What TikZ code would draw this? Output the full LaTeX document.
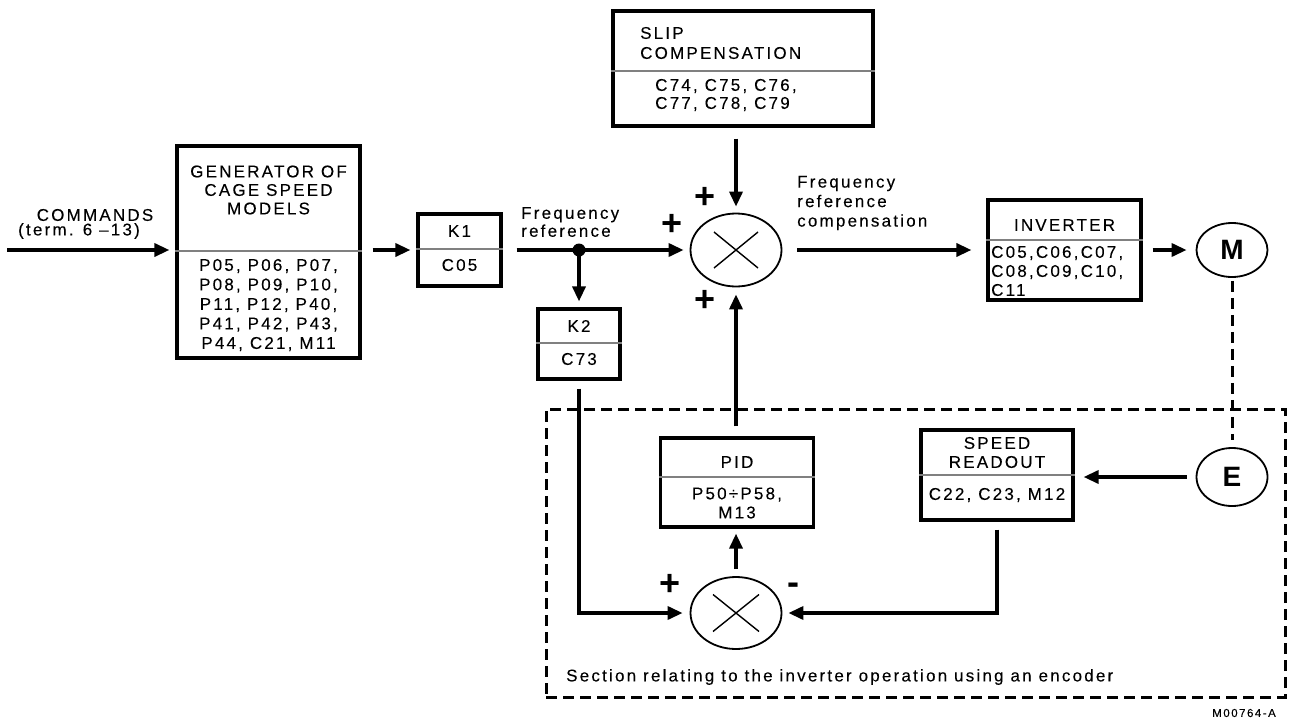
\documentclass[tikz,border=0pt]{standalone}
\usepackage{fontspec}
\setmainfont{Liberation Sans}[LetterSpace=13,FakeBold=0.12]
\newfontfamily\plainsans{Liberation Sans}
\usetikzlibrary{arrows.meta,shapes.geometric}
\newcommand\lblfont{\fontsize{17}{19.5}\selectfont}
\newcommand\tagfont{\fontsize{11.5}{13}\selectfont}
\newcommand\signfont{\plainsans\bfseries\fontsize{36}{36}\selectfont}
\newcommand\motorfont{\plainsans\bfseries\fontsize{28}{28}\selectfont}

\begin{document}
\begin{tikzpicture}[x=1pt,y=-1pt,
  blk/.style={draw, line width=3.2pt, rectangle, inner sep=0pt},
  divider/.style={draw=black!50, line width=1.4pt},
  lbl/.style={inner sep=0pt, font=\lblfont, align=center},
  lbll/.style={inner sep=0pt, font=\lblfont, align=left, anchor=west},
  sumj/.style={draw, ellipse, line width=1.8pt, inner sep=0pt, minimum width=91pt, minimum height=73pt},
  crossln/.style={line width=1.4pt},
  flow/.style={line width=3.4pt, -{Triangle[length=15pt,width=13pt]}},
  signlbl/.style={inner sep=0pt, font=\signfont},
  machine/.style={draw, ellipse, line width=1.8pt, inner sep=0pt, minimum width=71pt, font=\motorfont},
  dashln/.style={line width=3pt, dash pattern=on 11pt off 6pt},
]
\useasboundingbox (0,0) rectangle (1290,720);

% encoder section frame (drawn first, solid lines cross over it)
\node[dashln, draw, rectangle, inner sep=0pt, minimum width=739pt, minimum height=288pt] (encsec) at (915.5,553) {};

% ---------- blocks ----------
\node[blk, minimum width=183pt, minimum height=212pt] (gen) at (268.5,252) {};
\draw[divider] ([yshift=1pt]gen.west) -- ([yshift=1pt]gen.east);
\node[lbl, font={\fontsize{17}{18.5}\selectfont}] (gentitle) at (268.5,190) {GENERATOR OF\\CAGE SPEED\\MODELS};
\node[lbl] (genpar) at (268.5,305) {P05, P06, P07,\\P08, P09, P10,\\P11, P12, P40,\\P41, P42, P43,\\P44, C21, M11};

\node[blk, minimum width=83pt, minimum height=72pt] (k1) at (459.5,250) {};
\draw[divider] ([yshift=1pt]k1.west) -- ([yshift=1pt]k1.east);
\node[lbl] (k1a) at (459.5,231) {K1};
\node[lbl] (k1b) at (459.5,265) {C05};

\node[blk, minimum width=82pt, minimum height=70pt] (k2) at (579,344) {};
\draw[divider] ([yshift=1pt]k2.west) -- ([yshift=1pt]k2.east);
\node[lbl] (k2a) at (579,326) {K2};
\node[lbl] (k2b) at (579,359) {C73};

\node[blk, minimum width=260pt, minimum height=115pt] (slip) at (743,68.5) {};
\draw[divider] ([yshift=-2.5pt]slip.west) -- ([yshift=-2.5pt]slip.east);
\node[lbll, font={\fontsize{17}{20}\selectfont}] (sliptitle) at (640,43) {SLIP\\COMPENSATION};
\node[lbll, font={\fontsize{17}{18}\selectfont}] (slippar) at (655,95) {C74, C75, C76,\\C77, C78, C79};

\node[blk, minimum width=153pt, minimum height=100pt] (inv) at (1064.5,250) {};
\draw[divider] ([yshift=10pt]inv.west) -- ([yshift=10pt]inv.east);
\node[lbl] (invtitle) at (1064.5,225) {INVERTER};
\node[lbll, font={\fontsize{17}{19}\selectfont}] (invpar) at (991,271) {C05,C06,C07,\\C08,C09,C10,\\C11};

\node[blk, minimum width=153pt, minimum height=89pt] (pid) at (737,482.5) {};
\draw[divider] ([yshift=5.5pt]pid.west) -- ([yshift=5.5pt]pid.east);
\node[lbl] (pidtitle) at (737,462) {PID};
\node[lbl, font={\fontsize{17}{19}\selectfont}] (pidpar) at (737,503) {P50÷P58,\\M13};

\node[blk, minimum width=152pt, minimum height=90pt] (spd) at (997,475) {};
\draw[divider] (spd.west) -- (spd.east);
\node[lbl, font={\fontsize{17}{19}\selectfont}] (spdtitle) at (997,452.5) {SPEED\\READOUT};
\node[lbl] (spdpar) at (997,495) {C22, C23, M12};

% ---------- summing junctions ----------
\node[sumj] (sj1) at (736,250) {};
\draw[crossln] (sj1.center) ++(-22,-18) -- ++(44,36);
\draw[crossln] (sj1.center) ++(-22,18) -- ++(44,-36);
\node[sumj, minimum height=72pt] (sj2) at (736,613) {};
\draw[crossln] (sj2.center) ++(-23,-18.5) -- ++(46,37);
\draw[crossln] (sj2.center) ++(-23,18.5) -- ++(46,-37);

\node[signlbl] (plustop) at (705,198) {+};
\node[signlbl] (plusleft) at (672,225) {+};
\node[signlbl] (plusbot) at (705,301) {+};
\node[signlbl] (plusfb) at (670,585) {+};
\node[signlbl] (minusfb) at (793,589) {-};

% ---------- motor and encoder ----------
\node[machine, minimum height=54pt] (M) at (1232,250) {M};
\node[machine, minimum height=58pt] (E) at (1232,477) {E};
\draw[dashln, shorten <=3pt, shorten >=7pt] (M.south) -- (E.north);

% ---------- text labels ----------
\node[lbl] (cmda) at (95,215) {COMMANDS};
\node[lbl] (cmdb) at (79,231) {(term. 6 –13)};
\node[lbll, font={\fontsize{17}{18}\selectfont}] (fref) at (521,222) {Frequency\\reference};
\node[lbll] (frefc) at (797,203) {Frequency\\reference\\compensation};
\node[lbll] (sectxt) at (566,677) {Section relating to the inverter operation using an encoder};
\node[inner sep=0pt, anchor=east, font=\tagfont] (tag) at (1276,713) {M00764-A};

% ---------- signal flow ----------
\coordinate (cmdin) at (7,250);
\draw[flow, shorten >=6pt] (cmdin) -- (gen.west |- cmdin);
\draw[flow, shorten <=11pt, shorten >=6pt] (gen.east |- k1.west) -- (k1.west);
\draw[flow, shorten <=14pt, shorten >=6pt] (k1.east) -- (sj1.west);
\node[circle, fill, inner sep=0pt, minimum size=13pt] (fr) at (579,250) {};
\draw[flow, shorten >=6pt] (fr.center) -- (k2.north);
\draw[flow, shorten <=8pt, shorten >=7pt] (k2.south) |- (sj2.west);
\draw[flow, shorten <=11pt, shorten >=6pt] (sj1.north |- slip.south) -- (sj1.north);
\draw[flow, shorten <=10pt, shorten >=7pt] (sj1.south |- pid.north) -- (sj1.south);
\draw[flow, shorten <=7pt, shorten >=5pt] (sj2.north) -- (sj2.north |- pid.south);
\draw[flow, shorten <=8pt, shorten >=6pt] (spd.south) |- (sj2.east);
\draw[flow, shorten <=9pt, shorten >=9pt] (E.west) -- (spd.east |- E.west);
\draw[flow, shorten <=15pt, shorten >=15pt] (sj1.east) -- (inv.west);
\draw[flow, shorten <=10pt, shorten >=9pt] (inv.east) -- (M.west);

\end{tikzpicture}
\end{document}
